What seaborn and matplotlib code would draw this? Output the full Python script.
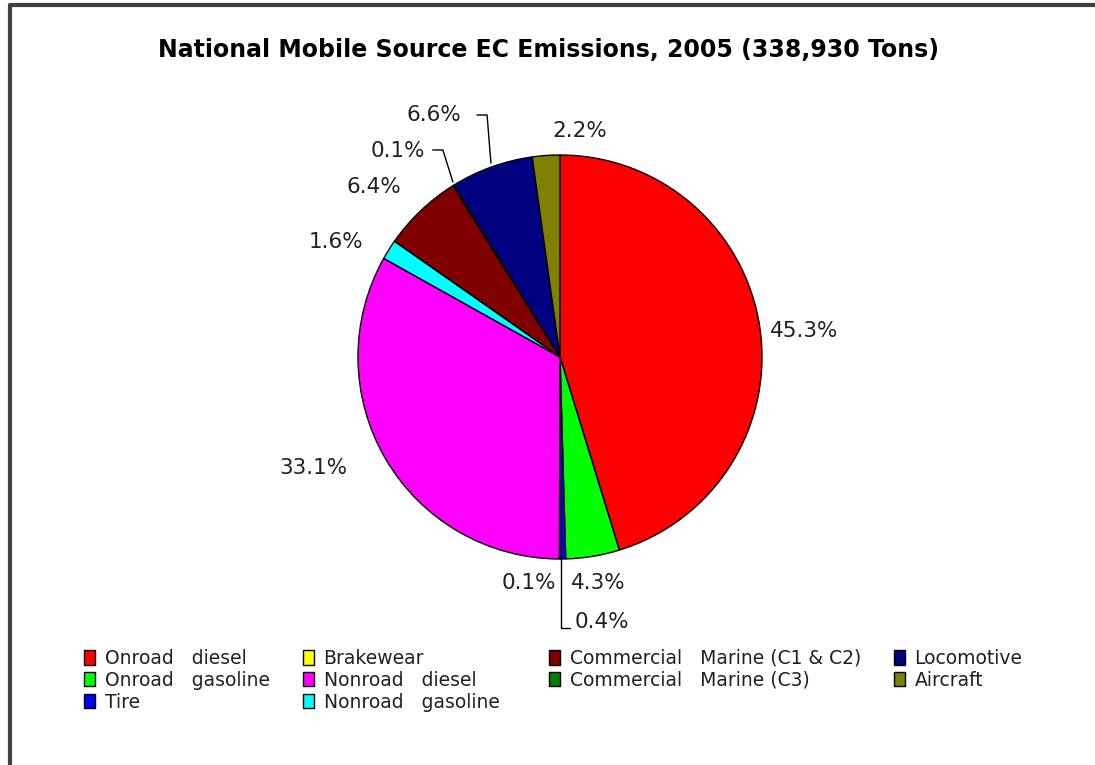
import matplotlib
matplotlib.use("Agg")
import matplotlib.pyplot as plt
import seaborn as sns
from matplotlib.lines import Line2D

sns.set_theme(style="white")
plt.rcParams['font.family'] = ['DejaVu Sans']

# ---- data ----
categories = ["Onroad   diesel", "Onroad   gasoline", "Tire", "Brakewear",
              "Nonroad   diesel", "Nonroad   gasoline",
              "Commercial   Marine (C1 & C2)", "Commercial   Marine (C3)",
              "Locomotive", "Aircraft"]
shares = [45.3, 4.3, 0.4, 0.1, 33.1, 1.6, 6.4, 0.1, 6.6, 2.2]
labels = ["45.3%", "4.3%", "0.4%", "0.1%", "33.1%", "1.6%", "6.4%", "0.1%", "6.6%", "2.2%"]
colors = ["#ff0000", "#00ff00", "#0000ff", "#ffff00", "#ff00ff", "#00ffff",
          "#800000", "#008000", "#000080", "#808000"]
title = "National Mobile Source EC Emissions, 2005 (338,930 Tons)"

W, H = 1095, 765
fig = plt.figure(figsize=(W / 100, H / 100), dpi=100)
fig.patch.set_facecolor("white")

# pie centre & radius in pixels
cx, cy, R = 560, 357, 202
ax = fig.add_axes([0, 0, 1, 1])
wedges, _ = ax.pie(shares, colors=colors, startangle=90, counterclock=False,
                   wedgeprops=dict(edgecolor="black", linewidth=1.0))
ax.set_aspect("auto")
ax.set_xlim(-cx / R, (W - cx) / R)
ax.set_ylim(-(H - cy) / R, cy / R)
ax.axis("off")

# label positions (data units, radius = 1) and alignment
pos = [(1.21, 0.13, "center"), (0.19, -1.12, "center"), (0.07, -1.31, "left"),
       (-0.02, -1.12, "right"), (-1.22, -0.55, "center"), (-1.11, 0.57, "center"),
       (-0.92, 0.84, "center"), (-0.67, 1.02, "right"), (-0.49, 1.20, "right"),
       (0.10, 1.12, "center")]
for lab, (x, y, ha) in zip(labels, pos):
    ax.text(x, y, lab, ha=ha, va="center", fontsize=15.5, color="#202020")

# leader lines
lk = dict(color="black", linewidth=1.0)
ax.plot([0.005, 0.005, 0.05], [-1.0, -1.34, -1.34], **lk)
ax.plot([-0.53, -0.58, -0.63], [0.866, 1.025, 1.025], **lk)
ax.plot([-0.342, -0.361, -0.411], [0.96, 1.198, 1.198], **lk)

# title
fig.text(548 / W, 1 - 50 / H, title, ha="center", va="center",
         fontsize=17, fontweight="bold", color="black")

# legend, four columns
cols = [(0, 3, 84), (3, 6, 303), (6, 8, 549), (8, 10, 894)]
for a, b, x0 in cols:
    fig.legend(wedges[a:b], categories[a:b], loc="upper left",
               bbox_to_anchor=(x0 / W, 1 - 649 / H), frameon=False,
               fontsize=13.5, handlelength=0.6, handleheight=0.8,
               handletextpad=0.5, labelspacing=0.15, borderpad=0,
               borderaxespad=0, labelcolor="#202020")

# frame
fl = dict(color="#404040", linewidth=3, transform=fig.transFigure)
fig.add_artist(Line2D([9.5 / W, 9.5 / W], [0, 1 - 5 / H], **fl))
fig.add_artist(Line2D([9.5 / W, 1], [1 - 5 / H, 1 - 5 / H], **fl))

fig.savefig("out.png", dpi=100, facecolor="white")
